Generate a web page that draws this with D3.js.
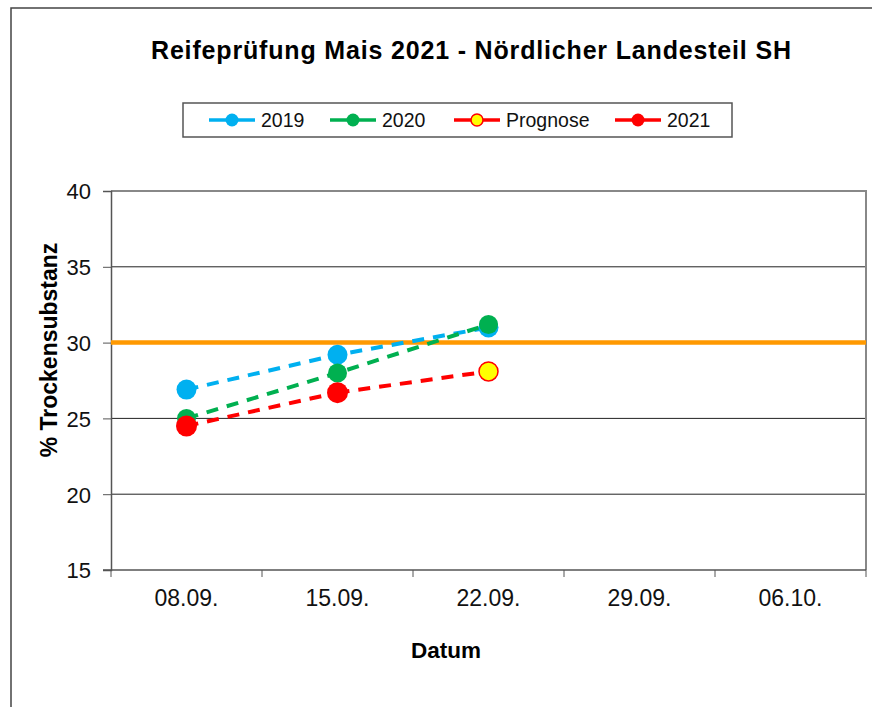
<!DOCTYPE html>
<html>
<head>
<meta charset="utf-8">
<script src="https://cdn.jsdelivr.net/npm/d3@7"></script>
<style>
  body { margin: 0; background: #fff; }
  text { font-family: "Liberation Sans", Arial, sans-serif; }
</style>
</head>
<body>
<div id="chart"></div>
<script>
// categories and series
const dates = ['08.09.', '15.09.', '22.09.', '29.09.', '06.10.'];
const values2019 = [26.9, 29.2, 31.0];
const values2020 = [25.0, 28.0, 31.2];
const values2021 = [24.5, 26.7];
const prognoseDates = ['15.09.', '22.09.'];
const prognoseValues = [26.7, 28.1];
const yTicks = [15, 20, 25, 30, 35, 40];
const threshold = 30;

const width = 872;
const height = 707;
const plot = { left: 111, right: 866, top: 191, bottom: 570 };

const svg = d3.select('#chart')
  .append('svg')
  .attr('width', width)
  .attr('height', height);

// outer frame (right / bottom edges fall outside the picture)
svg.append('rect')
  .attr('x', 11).attr('y', 8)
  .attr('width', 880).attr('height', 720)
  .attr('fill', '#fff')
  .attr('stroke', '#444')
  .attr('stroke-width', 1.5);

const xScale = d3.scaleBand().domain(dates).range([plot.left, plot.right]);
const yScale = d3.scaleLinear().domain([15, 40]).range([plot.bottom, plot.top]);
const cx = d => xScale(d) + xScale.bandwidth() / 2;

// title
svg.append('text')
  .attr('x', 471).attr('y', 59)
  .attr('text-anchor', 'middle')
  .attr('textLength', 640)
  .attr('lengthAdjust', 'spacing')
  .style('font-size', '25px')
  .style('font-weight', 'bold')
  .text('Reifeprüfung Mais 2021 - Nördlicher Landesteil SH');

// gridlines
svg.append('g')
  .selectAll('line')
  .data(yTicks.filter(t => t > 15))
  .enter()
  .append('line')
  .attr('x1', plot.left).attr('x2', plot.right)
  .attr('y1', d => yScale(d)).attr('y2', d => yScale(d))
  .attr('stroke', '#222')
  .attr('stroke-width', 1);

// plot frame top / right
svg.append('path')
  .attr('d', `M${plot.left},${plot.top}H${plot.right}V${plot.bottom}`)
  .attr('fill', 'none')
  .attr('stroke', '#888')
  .attr('stroke-width', 2);

// y axis
const yAxis = svg.append('g')
  .attr('transform', `translate(${plot.left},0)`)
  .call(d3.axisLeft(yScale).tickValues(yTicks).tickSize(8).tickPadding(12));
yAxis.select('.domain').attr('stroke', '#555').attr('stroke-width', 1.5);
yAxis.selectAll('.tick line').attr('stroke', '#555');
yAxis.selectAll('.tick text')
  .style('font-size', '22px')
  .attr('dy', '0.36em')
  .attr('fill', '#111');

// x axis: labels centred in bands, ticks on band edges
const xAxis = svg.append('g')
  .attr('transform', `translate(0,${plot.bottom})`)
  .call(d3.axisBottom(xScale).tickSize(0).tickPadding(20));
xAxis.select('.domain').attr('stroke', '#555').attr('stroke-width', 1.5)
  .attr('d', `M${plot.left - 8},0H${plot.right}`);
xAxis.selectAll('.tick text')
  .style('font-size', '23px')
  .attr('fill', '#111');
xAxis.selectAll('.edge')
  .data(dates.concat(['end']))
  .enter()
  .append('line')
  .attr('class', 'edge')
  .attr('x1', (d, i) => plot.left + i * xScale.bandwidth())
  .attr('x2', (d, i) => plot.left + i * xScale.bandwidth())
  .attr('y1', 0).attr('y2', 7)
  .attr('stroke', '#555');

// axis titles
svg.append('text')
  .attr('x', 446).attr('y', 658)
  .attr('text-anchor', 'middle')
  .style('font-size', '22.5px')
  .style('font-weight', 'bold')
  .text('Datum');

svg.append('text')
  .attr('transform', 'translate(57,350) rotate(-90)')
  .attr('text-anchor', 'middle')
  .style('font-size', '23px')
  .style('font-weight', 'bold')
  .text('% Trockensubstanz');

// threshold line
svg.append('line')
  .attr('x1', plot.left).attr('x2', plot.right)
  .attr('y1', yScale(threshold)).attr('y2', yScale(threshold))
  .attr('stroke', '#ff9900')
  .attr('stroke-width', 4.5);

const series = [
  { name: '2019', x: dates.slice(0, 3), y: values2019, color: '#00b0f0', fill: '#00b0f0', r: 10 },
  { name: '2020', x: dates.slice(0, 3), y: values2020, color: '#00b050', fill: '#00b050', r: 9.5 },
  { name: 'Prognose', x: prognoseDates, y: prognoseValues, color: '#ff0000', fill: '#ffff00', r: 9.5, noFirst: true },
  { name: '2021', x: dates.slice(0, 2), y: values2021, color: '#ff0000', fill: '#ff0000', r: 10.5 },
];

const line = d3.line()
  .x(d => cx(d[0]))
  .y(d => yScale(d[1]));

series.forEach((s) => {
  const pts = s.x.map((d, i) => [d, s.y[i]]);
  svg.append('path')
    .datum(pts)
    .attr('d', line)
    .attr('fill', 'none')
    .attr('stroke', s.color)
    .attr('stroke-width', 4)
    .attr('stroke-dasharray', '12,9');
});

series.forEach((s) => {
  const pts = s.x.map((d, i) => [d, s.y[i]]).filter((p, i) => !(s.noFirst && i === 0));
  svg.append('g')
    .selectAll('circle')
    .data(pts)
    .enter()
    .append('circle')
    .attr('cx', d => cx(d[0]))
    .attr('cy', d => yScale(d[1]))
    .attr('r', s.r)
    .attr('fill', s.fill)
    .attr('stroke', s.noFirst ? s.color : 'none')
    .attr('stroke-width', 1.5);
});

// legend
const legend = svg.append('g');
legend.append('rect')
  .attr('x', 183).attr('y', 103)
  .attr('width', 549).attr('height', 34)
  .attr('fill', '#fff')
  .attr('stroke', '#555')
  .attr('stroke-width', 1.5);

const legendX = [209, 330, 454, 615];
series.forEach((s, i) => {
  const g = legend.append('g').attr('transform', `translate(${legendX[i]},120)`);
  g.append('line')
    .attr('x1', 0).attr('x2', 46)
    .attr('stroke', s.color)
    .attr('stroke-width', 3.5);
  g.append('circle')
    .attr('cx', 23).attr('r', s.noFirst ? 6 : 6.5)
    .attr('fill', s.fill)
    .attr('stroke', s.noFirst ? s.color : 'none')
    .attr('stroke-width', 1.5);
  g.append('text')
    .attr('x', 52).attr('y', 7)
    .style('font-size', '19.5px')
    .attr('fill', '#111')
    .text(s.name);
});
</script>
</body>
</html>
